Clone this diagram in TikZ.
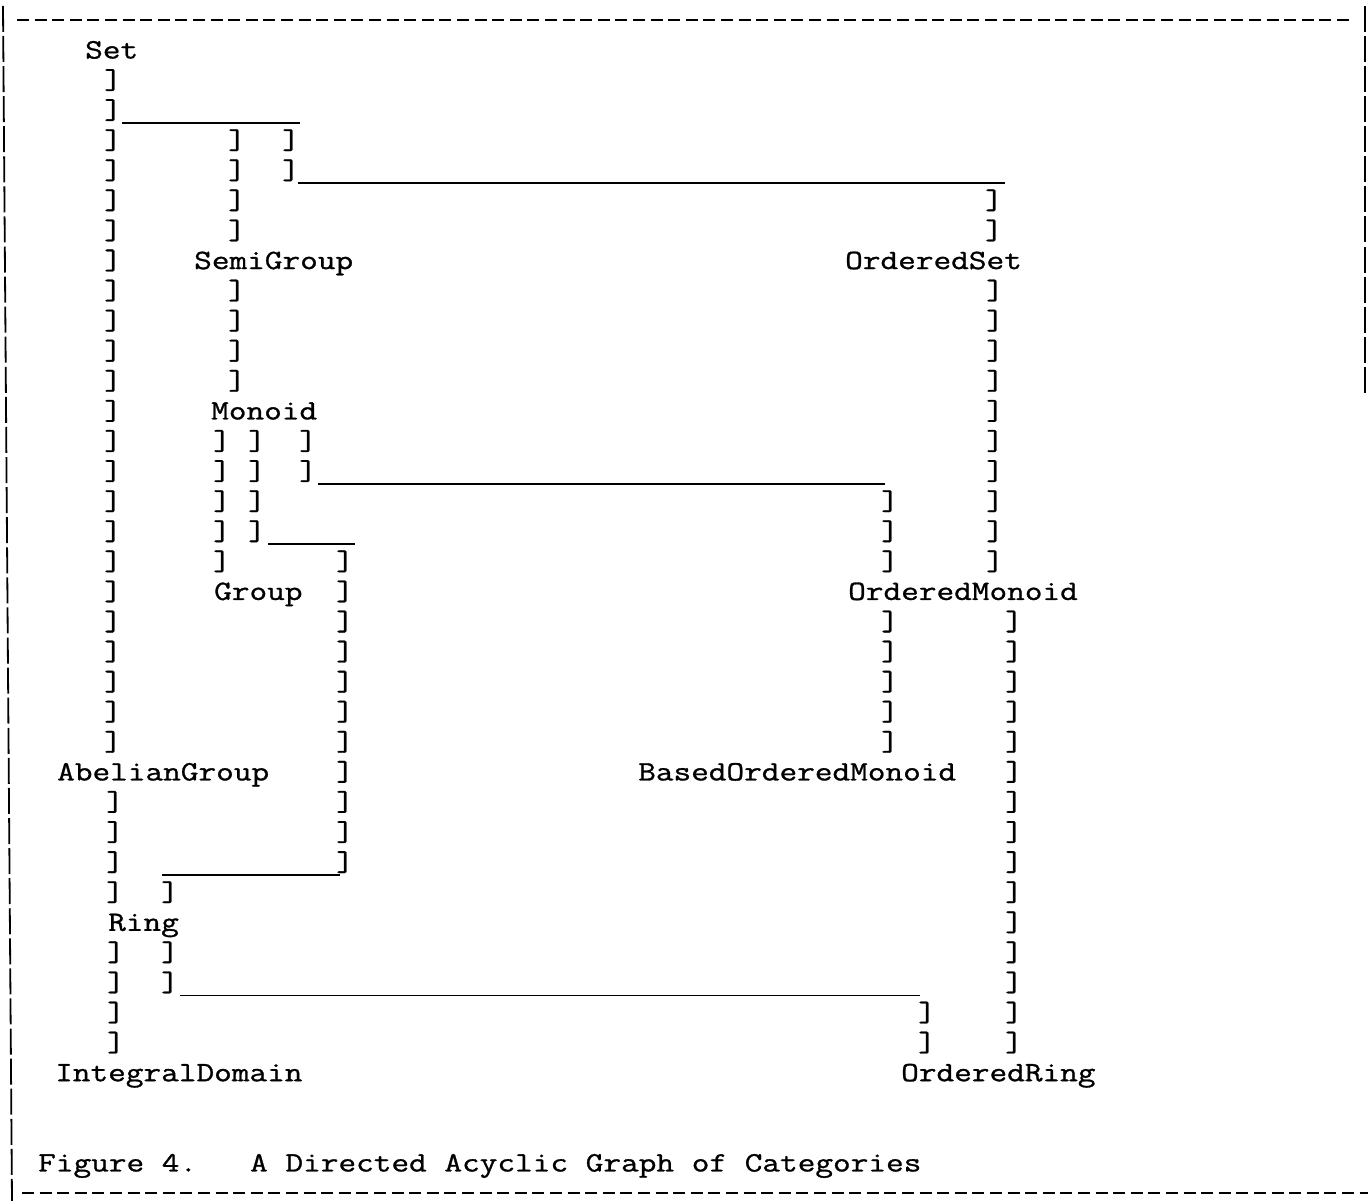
\documentclass[tikz,border=0pt]{standalone}
\usepackage{fontspec}
\usepackage{tikz}
\newfontfamily\catmono[FakeStretch=1.225,FakeBold=1]{Latin Modern Mono}
\newcommand{\listfont}{\catmono\fontsize{28pt}{30pt}\selectfont}
% one column of ] marks, from row #2 to row #3
\newcommand{\barstack}[3]{\foreach \r in {#2,...,#3} \node[bar] at (#1,\r) {]};}

\begin{document}
\begin{tikzpicture}[
  x=1pt, y=-30.08pt,
  cat/.style={anchor=base west, inner sep=0pt, font=\listfont},
  bar/.style={anchor=base, inner sep=0pt, font=\listfont},
  rule/.style={line width=1.8pt},
  edge/.style={line width=1.8pt, dash pattern=on 12pt off 5.6pt},
  side/.style={line width=1.8pt, dash pattern=on 26pt off 4.08pt}
]
\useasboundingbox (0,-1.945) rectangle (1368,37.98);

% frame
\draw[edge] (17,-1.28) -- (1352,-1.28);
\draw[edge] (22,37.72) -- (1368,37.72);
\draw[side] (3,-1.75) -- (12,37.98);
\draw[side] (1365,-1.75) -- (1365,11.15);

% categories
\node[cat] (set) at (85,0) {Set};
\node[cat] (semigroup) at (194,7) {SemiGroup};
\node[cat] (orderedset) at (845,7) {OrderedSet};
\node[cat] (monoid) at (211,12) {Monoid};
\node[cat] (group) at (214,18) {Group};
\node[cat] (orderedmonoid) at (848,18) {OrderedMonoid};
\node[cat] (abelian) at (57,24) {AbelianGroup};
\node[cat] (basedmonoid) at (638,24) {BasedOrderedMonoid};
\node[cat] (ring) at (108,29) {Ring};
\node[cat] (integral) at (55,34) {IntegralDomain};
\node[cat] (orderedring) at (901,34) {OrderedRing};
\node[cat] (caption) at (38,37) {Figure 4.\ \ \ A Directed Acyclic Graph of Categories};

% Set
\barstack{113}{1}{23}
\draw[rule] (122,2.15) -- (300,2.15);
\barstack{237}{3}{6}
\barstack{291}{3}{4}
\draw[rule] (298,4.15) -- (1005,4.15);
\barstack{994}{5}{6}
% SemiGroup, OrderedSet
\barstack{237}{8}{11}
\barstack{995}{8}{17}
% Monoid
\barstack{222}{13}{17}
\barstack{257}{13}{16}
\draw[rule] (268,16.15) -- (355,16.15);
\barstack{345}{17}{27}
\draw[rule] (162,27.15) -- (340,27.15);
\barstack{170}{28}{28}
\barstack{308}{13}{14}
\draw[rule] (318,14.15) -- (885,14.15);
\barstack{890}{15}{17}
% AbelianGroup, OrderedMonoid
\barstack{115}{25}{28}
\barstack{890}{19}{23}
\barstack{1014}{19}{33}
% Ring
\barstack{116}{30}{33}
\barstack{170}{30}{31}
\draw[rule] (180,31.15) -- (920,31.15);
\barstack{927}{32}{33}
\end{tikzpicture}
\end{document}
